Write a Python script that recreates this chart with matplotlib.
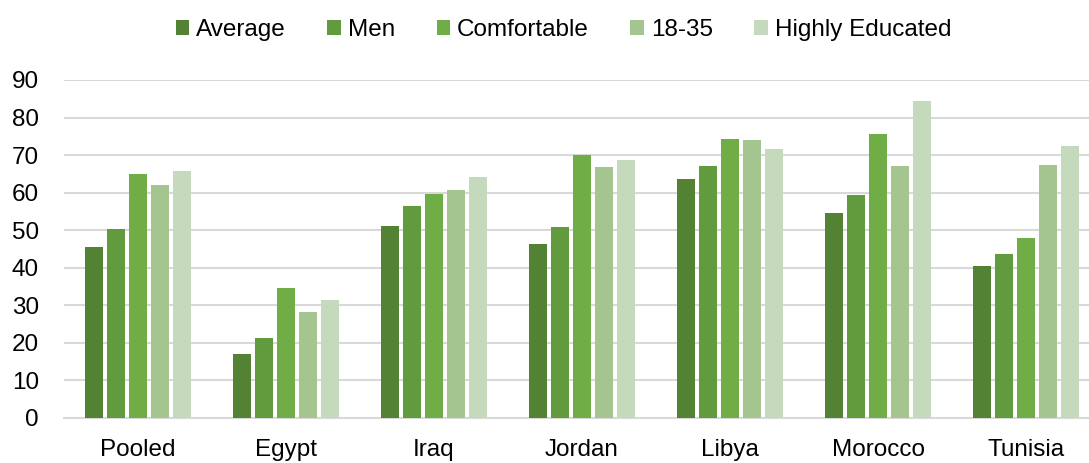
import matplotlib.pyplot as plt
import numpy as np

plt.rcParams["font.family"] = ["Liberation Sans", "DejaVu Sans"]

countries = ["Pooled", "Egypt", "Iraq", "Jordan", "Libya", "Morocco", "Tunisia"]
series_names = ["Average", "Men", "Comfortable", "18-35", "Highly Educated"]
average = [45.6, 17.1, 51.2, 46.4, 63.7, 54.7, 40.6]
men = [50.4, 21.4, 56.5, 50.9, 67.2, 59.5, 43.8]
comfortable = [65.0, 34.7, 59.7, 69.9, 74.4, 75.7, 48.0]
young = [62.1, 28.3, 60.8, 66.9, 74.1, 67.2, 67.5]
highly_educated = [65.8, 31.3, 64.3, 68.8, 71.5, 84.5, 72.5]
colors = ["#548235", "#629A3E", "#70AD47", "#A5C590", "#C5D9BC"]

series = [average, men, comfortable, young, highly_educated]
FS = 17.5

fig = plt.figure(figsize=(10.89, 4.63), dpi=100)
ax = fig.add_axes([64 / 1089, 45 / 463, 1 - 64 / 1089, 338 / 463])

x = np.arange(len(countries))
pitch = 22 / 148
width = 18 / 148
for i, (name, vals, c) in enumerate(zip(series_names, series, colors)):
    ax.bar(x + (i - 2) * pitch, vals, width, color=c, label=name, zorder=3)

ax.set_ylim(0, 90)
ax.set_yticks(range(0, 91, 10))
ax.set_xlim(-0.5, 6.5 - 11 / 148)
ax.set_xticks(x)
ax.set_xticklabels(countries)
ax.grid(axis="y", color="#D9D9D9", linewidth=1.5, zorder=0)
for s in ["top", "right", "left"]:
    ax.spines[s].set_visible(False)
ax.spines["bottom"].set_color("#D9D9D9")
ax.spines["bottom"].set_linewidth(1.5)
ax.tick_params(axis="both", length=0, labelsize=FS, colors="black")
ax.tick_params(axis="y", pad=18)
ax.tick_params(axis="x", pad=15)

fig.legend(loc="center", bbox_to_anchor=(0.5175, 1 - 30 / 463), ncol=5, frameon=False,
           fontsize=FS, handlelength=0.55, handleheight=0.55, handletextpad=0.3,
           columnspacing=1.7, borderpad=0)

fig.savefig("out.png", dpi=100)
